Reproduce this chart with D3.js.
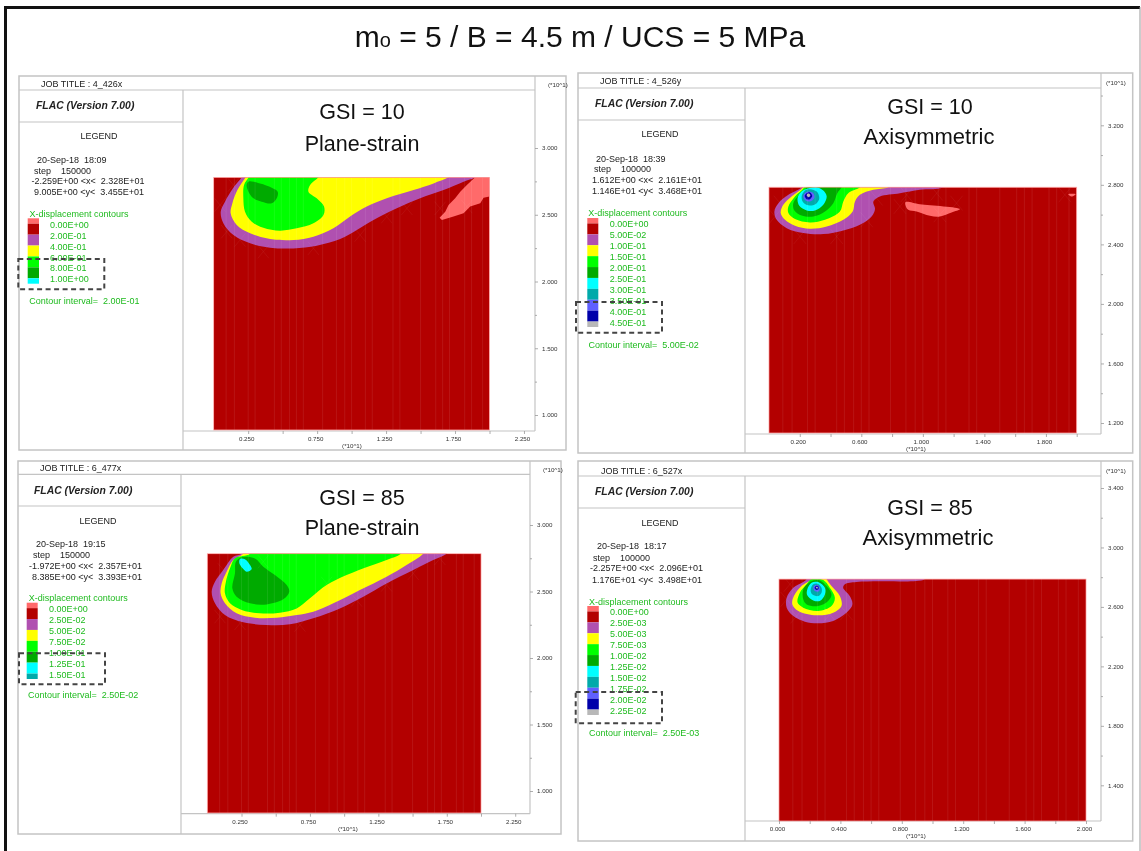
<!DOCTYPE html>
<html>
<head>
<meta charset="utf-8">
<title>FLAC x-displacement contours</title>
<script src="https://cdn.jsdelivr.net/npm/d3@7"></script>
<style>
  html, body { margin: 0; padding: 0; background: #fff; }
  svg { display: block; font-family: "Liberation Sans", Arial, sans-serif; filter: blur(0.5px); }
  svg text { white-space: pre; }
</style>
</head>
<body>
<script>
"use strict";

var chartTitle = "= 5 / B = 4.5 m / UCS = 5 MPa";

// contour colours, lowest level first
var levelColors = ["#ff6a6a", "#b30000", "#b050b0", "#ffff00", "#00ff00", "#00aa00",
  "#00ffff", "#00aaaa", "#6060ff", "#0000aa", "#b8b8b8"];

// legend values
var legend426 = ["0.00E+00", "2.00E-01", "4.00E-01", "6.00E-01", "8.00E-01", "1.00E+00"];
var legend526 = ["0.00E+00", "5.00E-02", "1.00E-01", "1.50E-01", "2.00E-01", "2.50E-01",
  "3.00E-01", "3.50E-01", "4.00E-01", "4.50E-01"];
var legend477 = ["0.00E+00", "2.50E-02", "5.00E-02", "7.50E-02", "1.00E-01", "1.25E-01", "1.50E-01"];
var legend527 = ["0.00E+00", "2.50E-03", "5.00E-03", "7.50E-03", "1.00E-02", "1.25E-02",
  "1.50E-02", "1.75E-02", "2.00E-02", "2.25E-02"];

// vertical grid lines of the mesh (model x, *10^1)
var meshColumns = [0.09, 0.15, 0.25, 0.30, 0.44, 0.49, 0.55, 0.60, 0.65, 0.79, 0.89, 0.95,
  1.00, 1.10, 1.15, 1.30, 1.35, 1.50, 1.61, 1.66, 1.71, 1.82, 1.87, 1.95];

// refined mesh zones showing as faint crosses, cell centres in model units
var cells426 = [[0.143, 2.723], [0.046, 2.573], [0.094, 2.373], [0.191, 2.311], [0.360, 2.224], [0.723, 2.249],
  [1.062, 2.348], [1.255, 2.486], [1.401, 2.548], [1.642, 2.548], [1.836, 2.561]];
var cells526 = [[0.039, 2.587], [0.071, 2.677], [0.201, 2.453], [0.440, 2.453], [0.635, 2.565], [0.699, 2.711],
  [0.851, 2.655], [0.895, 2.733], [1.09, 2.744], [1.219, 2.677], [1.111, 2.599], [1.923, 2.733]];
var cells477 = [[0.117, 2.662], [0.093, 2.311], [0.239, 2.261], [0.677, 2.248], [1.091, 2.436], [1.310, 2.549],
  [1.505, 2.637], [1.700, 2.749], [0.409, 2.724], [0.872, 2.561]];
var cells527 = [[0.050, 2.651], [0.115, 2.539], [0.331, 2.550], [0.439, 2.561], [0.071, 2.752]];

// contour outlines, [x, y] in model units (*10^1)
var c426Purple = [[0.203, 2.78], [0.14, 2.698], [0.082, 2.598], [0.051, 2.523], [0.070, 2.436], [0.143, 2.348],
  [0.264, 2.286], [0.409, 2.253], [0.578, 2.248], [0.747, 2.268], [0.917, 2.318], [1.038, 2.386], [1.159, 2.461],
  [1.328, 2.548], [1.497, 2.623], [1.667, 2.685], [1.812, 2.748], [1.896, 2.78], [1.95, 2.85], [0.24, 2.85]];
var c426Yellow = [[0.232, 2.78], [0.172, 2.685], [0.135, 2.585], [0.123, 2.511], [0.167, 2.423], [0.264, 2.361],
  [0.409, 2.318], [0.578, 2.311], [0.723, 2.336], [0.868, 2.398], [0.989, 2.486], [1.110, 2.561], [1.255, 2.623],
  [1.449, 2.685], [1.594, 2.735], [1.703, 2.78], [1.80, 2.85], [0.28, 2.85]];
var c426Green = [[0.252, 2.78], [0.220, 2.723], [0.215, 2.623], [0.227, 2.523], [0.276, 2.448], [0.360, 2.403],
  [0.481, 2.381], [0.602, 2.398], [0.723, 2.436], [0.796, 2.498], [0.800, 2.561], [0.747, 2.623], [0.687, 2.673],
  [0.699, 2.723], [0.760, 2.78], [0.80, 2.85], [0.27, 2.85]];
var c426Dark = [[0.252, 2.748], [0.336, 2.735], [0.421, 2.703], [0.464, 2.673], [0.457, 2.623], [0.421, 2.586],
  [0.348, 2.598], [0.288, 2.623], [0.252, 2.673], [0.239, 2.723]];
var c426Pink = [[1.896, 2.78], [2.0, 2.78], [2.0, 2.636], [1.957, 2.628], [1.933, 2.586], [1.860, 2.561],
  [1.812, 2.511], [1.739, 2.486], [1.655, 2.461], [1.638, 2.478], [1.679, 2.523], [1.703, 2.573], [1.751, 2.623],
  [1.788, 2.673], [1.836, 2.723]];

var c526Purple = [[0.212, 2.784], [0.126, 2.733], [0.061, 2.677], [0.035, 2.621], [0.050, 2.565], [0.115, 2.509],
  [0.223, 2.476], [0.353, 2.469], [0.483, 2.494], [0.591, 2.532], [0.667, 2.587], [0.689, 2.637], [0.678, 2.688],
  [0.721, 2.722], [0.851, 2.744], [0.981, 2.767], [1.133, 2.784], [1.2, 2.85], [0.25, 2.85]];
var c526Yellow = [[0.223, 2.784], [0.147, 2.722], [0.093, 2.666], [0.076, 2.610], [0.104, 2.565], [0.169, 2.525],
  [0.266, 2.505], [0.375, 2.520], [0.483, 2.565], [0.544, 2.621], [0.559, 2.688], [0.591, 2.733], [0.678, 2.767],
  [0.775, 2.784], [0.85, 2.85], [0.26, 2.85]];
var c526Green = [[0.230, 2.784], [0.169, 2.722], [0.126, 2.655], [0.126, 2.610], [0.169, 2.570], [0.266, 2.547],
  [0.364, 2.565], [0.461, 2.621], [0.483, 2.688], [0.515, 2.744], [0.591, 2.784], [0.65, 2.85], [0.26, 2.85]];
var c526Dark = [[0.245, 2.784], [0.197, 2.733], [0.158, 2.677], [0.165, 2.628], [0.212, 2.594], [0.288, 2.587],
  [0.364, 2.621], [0.418, 2.677], [0.444, 2.744], [0.472, 2.784], [0.5, 2.85], [0.26, 2.85]];
var c526Cyan = [[0.266, 2.778], [0.212, 2.755], [0.186, 2.711], [0.197, 2.659], [0.245, 2.628], [0.299, 2.628],
  [0.353, 2.666], [0.375, 2.722], [0.353, 2.762], [0.310, 2.784]];
var c526Teal = [[0.234, 2.762], [0.212, 2.722], [0.223, 2.682], [0.266, 2.661], [0.310, 2.677], [0.327, 2.711],
  [0.310, 2.755], [0.266, 2.771]];
var c526Violet = [[0.238, 2.749], [0.223, 2.722], [0.238, 2.695], [0.266, 2.688], [0.295, 2.711], [0.288, 2.744],
  [0.262, 2.755]];
var c526Blue = [[0.245, 2.744], [0.232, 2.726], [0.245, 2.704], [0.266, 2.704], [0.281, 2.726], [0.266, 2.749]];
var c526Gray = [[0.251, 2.740], [0.245, 2.728], [0.258, 2.717], [0.269, 2.728], [0.262, 2.740]];
var c526Pink = [[0.888, 2.684], [0.981, 2.670], [1.241, 2.637], [1.187, 2.614], [1.111, 2.587], [1.046, 2.592],
  [0.959, 2.621], [0.905, 2.632], [0.888, 2.659]];
var c526PinkSmall = [[1.945, 2.737], [1.993, 2.737], [1.967, 2.722]];

var c477Purple = [[0.251, 2.784], [0.190, 2.762], [0.117, 2.662], [0.056, 2.574], [0.032, 2.499], [0.056, 2.411],
  [0.129, 2.323], [0.263, 2.268], [0.434, 2.248], [0.604, 2.253], [0.774, 2.298], [0.969, 2.373], [1.140, 2.461],
  [1.310, 2.561], [1.505, 2.662], [1.651, 2.737], [1.749, 2.784], [1.8, 2.85], [0.3, 2.85]];
var c477Yellow = [[0.263, 2.784], [0.190, 2.737], [0.141, 2.649], [0.105, 2.561], [0.097, 2.486], [0.129, 2.411],
  [0.214, 2.336], [0.348, 2.303], [0.507, 2.303], [0.653, 2.323], [0.774, 2.348], [0.921, 2.411], [1.115, 2.511],
  [1.310, 2.611], [1.456, 2.699], [1.578, 2.784], [1.62, 2.85], [0.3, 2.85]];
var c477Green = [[0.312, 2.784], [0.202, 2.749], [0.166, 2.674], [0.136, 2.574], [0.129, 2.486], [0.166, 2.411],
  [0.251, 2.361], [0.385, 2.336], [0.531, 2.341], [0.653, 2.373], [0.750, 2.449], [0.872, 2.549], [1.018, 2.624],
  [1.188, 2.692], [1.310, 2.737], [1.415, 2.784], [1.46, 2.85], [0.34, 2.85]];
var c477Dark = [[0.251, 2.757], [0.348, 2.749], [0.409, 2.687], [0.494, 2.624], [0.580, 2.549], [0.599, 2.499],
  [0.555, 2.441], [0.434, 2.403], [0.312, 2.411], [0.214, 2.461], [0.183, 2.524], [0.202, 2.636], [0.209, 2.724]];
var c477Cyan = [[0.239, 2.744], [0.275, 2.742], [0.312, 2.699], [0.324, 2.667], [0.287, 2.649], [0.258, 2.674],
  [0.234, 2.712]];

var c527Purple = [[0.18, 2.787], [0.158, 2.767], [0.093, 2.729], [0.050, 2.662], [0.050, 2.595], [0.093, 2.539],
  [0.169, 2.501], [0.255, 2.490], [0.353, 2.506], [0.439, 2.561], [0.478, 2.617], [0.461, 2.673], [0.418, 2.729],
  [0.429, 2.752], [0.504, 2.767], [0.656, 2.772], [0.894, 2.774], [0.95, 2.787], [0.95, 2.85], [0.2, 2.85]];
var c527Yellow = [[0.212, 2.787], [0.147, 2.740], [0.097, 2.673], [0.087, 2.617], [0.126, 2.573], [0.245, 2.544],
  [0.353, 2.561], [0.407, 2.606], [0.396, 2.673], [0.342, 2.740], [0.310, 2.787], [0.3, 2.85], [0.22, 2.85]];
var c527Green = [[0.212, 2.787], [0.180, 2.752], [0.136, 2.696], [0.121, 2.629], [0.158, 2.595], [0.255, 2.573],
  [0.342, 2.606], [0.364, 2.662], [0.331, 2.729], [0.288, 2.781]];
var c527Dark = [[0.201, 2.767], [0.158, 2.718], [0.158, 2.651], [0.180, 2.617], [0.255, 2.606], [0.320, 2.640],
  [0.342, 2.684], [0.299, 2.752], [0.255, 2.781]];
var c527Cyan = [[0.212, 2.763], [0.184, 2.718], [0.184, 2.678], [0.223, 2.644], [0.266, 2.640], [0.299, 2.684],
  [0.299, 2.729], [0.255, 2.767]];
var c527Teal = [[0.223, 2.752], [0.206, 2.714], [0.216, 2.685], [0.255, 2.673], [0.277, 2.696], [0.277, 2.729],
  [0.251, 2.756]];
var c527Violet = [[0.234, 2.745], [0.223, 2.729], [0.234, 2.707], [0.260, 2.705], [0.266, 2.729], [0.251, 2.747]];
var c527Blue = [[0.240, 2.741], [0.232, 2.727], [0.245, 2.714], [0.258, 2.723], [0.255, 2.741]];
var c527Gray = [[0.245, 2.736], [0.240, 2.727], [0.249, 2.723], [0.253, 2.732]];

// tick values for the four plots
var xMajor25 = [0.25, 0.75, 1.25, 1.75, 2.25];
var xMinor25 = [0.5, 1.0, 1.5, 2.0];
var xMajor2 = [0.2, 0.6, 1.0, 1.4, 1.8];
var xMinor2 = [0.4, 0.8, 1.2, 1.6, 2.0];
var xMajor4 = [0, 0.4, 0.8, 1.2, 1.6, 2.0];
var xMinor4 = [0.2, 0.6, 1.0, 1.4, 1.8];
var yMajor5 = [3.0, 2.5, 2.0, 1.5, 1.0];
var yMinor5 = [2.75, 2.25, 1.75, 1.25];
var yMajor426 = [3.2, 2.8, 2.4, 2.0, 1.6, 1.2];
var yMinor426 = [3.4, 3.0, 2.6, 2.2, 1.8, 1.4];
var yMajor527 = [3.4, 3.0, 2.6, 2.2, 1.8, 1.4];
var yMinor527 = [3.2, 2.8, 2.4, 2.0, 1.6];

var panels = [
  {
    job: "JOB TITLE : 4_426x", date: "20-Sep-18  18:09", step: "step    150000",
    xRange: "-2.259E+00 <x<  2.328E+01", yRange: "9.005E+00 <y<  3.455E+01",
    gsi: "GSI = 10", mode: "Plane-strain", modeSize: 21.5, legend: legend426, cells: cells426,
    frame: [19, 76, 566, 450], titleB: 90, leftR: 183, flacB: 122, plotR: 535, axisT: 431,
    xPx: [213.7, 489.5], yVal: [3.0, 1.0], yPx: [148, 415], top: 2.78, bottom: 0.888,
    xMajor: xMajor25, xMinor: xMinor25, yMajor: yMajor5, yMinor: yMinor5,
    textX: { job: 41, flac: 36, legend: 99, date: 37, step: 34, xr: 31.5, yr: 34 },
    textY: { job: 84, flac: 105, legend: 136, date: 160, step: 171, xr: 181, yr: 192 },
    lg: { x: 27.7, w: 11.3, top: 218.3, textX: 50, firstY: 224.7, headX: 29.5, headY: 214, intY: 300.7, intX: 29.3, interval: "2.00E-01" },
    dash: [18.3, 259, 104.3, 289.3],
    note: { gx: 362, gy: 111, mx: 362, my: 143 }, unitX: 548, unitY: 85, unitBx: 352,
    contours: [[2, c426Purple], [3, c426Yellow], [4, c426Green], [5, c426Dark], [0, c426Pink, true]]
  },
  {
    job: "JOB TITLE : 4_526y", date: "20-Sep-18  18:39", step: "step    100000",
    xRange: "1.612E+00 <x<  2.161E+01", yRange: "1.146E+01 <y<  3.468E+01",
    gsi: "GSI = 10", mode: "Axisymmetric", modeSize: 22, legend: legend526, cells: cells526,
    frame: [578, 73, 1132.7, 453], titleB: 88, leftR: 745, flacB: 120, plotR: 1101, axisT: 434,
    xPx: [769, 1076.7], yVal: [3.2, 1.2], yPx: [125.3, 423], top: 2.784, bottom: 1.133,
    xMajor: xMajor2, xMinor: xMinor2, yMajor: yMajor426, yMinor: yMinor426,
    textX: { job: 600, flac: 595, legend: 660, date: 596, step: 594, xr: 592, yr: 592 },
    textY: { job: 81, flac: 103, legend: 134, date: 159, step: 169, xr: 180, yr: 191 },
    lg: { x: 587.3, w: 11, top: 218, textX: 609.7, firstY: 224.3, headX: 588.3, headY: 213.3, intY: 345, intX: 588.5, interval: "5.00E-02" },
    dash: [576, 302, 662, 332.7],
    note: { gx: 930, gy: 106, mx: 929, my: 136 }, unitX: 1106, unitY: 83, unitBx: 916,
    contours: [[2, c526Purple], [3, c526Yellow], [4, c526Green], [5, c526Dark], [6, c526Cyan], [7, c526Teal],
      [8, c526Violet], [9, c526Blue], [10, c526Gray], [0, c526Pink], [0, c526PinkSmall]]
  },
  {
    job: "JOB TITLE : 6_477x", date: "20-Sep-18  19:15", step: "step    150000",
    xRange: "-1.972E+00 <x<  2.357E+01", yRange: "8.385E+00 <y<  3.393E+01",
    gsi: "GSI = 85", mode: "Plane-strain", modeSize: 21.5, legend: legend477, cells: cells477,
    frame: [18, 461, 561, 834], titleB: 474.3, leftR: 181, flacB: 506, plotR: 530, axisT: 813.7,
    xPx: [207.3, 481], yVal: [3.0, 1.0], yPx: [525, 791], top: 2.784, bottom: 0.835,
    xMajor: xMajor25, xMinor: xMinor25, yMajor: yMajor5, yMinor: yMinor5,
    textX: { job: 40, flac: 34, legend: 98, date: 36, step: 33, xr: 29, yr: 32 },
    textY: { job: 468, flac: 490, legend: 521, date: 544, step: 555, xr: 566, yr: 577 },
    lg: { x: 26.7, w: 11, top: 602.7, textX: 49, firstY: 609, headX: 28.7, headY: 598.3, intY: 695, intX: 28, interval: "2.50E-02" },
    dash: [19, 653.3, 105, 684.3],
    note: { gx: 362, gy: 497, mx: 362, my: 527 }, unitX: 543, unitY: 470, unitBx: 348,
    contours: [[2, c477Purple], [3, c477Yellow], [4, c477Green], [5, c477Dark], [6, c477Cyan]]
  },
  {
    job: "JOB TITLE : 6_527x", date: "20-Sep-18  18:17", step: "step    100000",
    xRange: "-2.257E+00 <x<  2.096E+01", yRange: "1.176E+01 <y<  3.498E+01",
    gsi: "GSI = 85", mode: "Axisymmetric", modeSize: 22, legend: legend527, cells: cells527,
    frame: [578, 461, 1132.7, 841], titleB: 476, leftR: 745, flacB: 508, plotR: 1101, axisT: 821,
    xPx: [779, 1086], yVal: [3.4, 1.4], yPx: [488, 785.3], top: 2.787, bottom: 1.16,
    xMajor: xMajor4, xMinor: xMinor4, yMajor: yMajor527, yMinor: yMinor527,
    textX: { job: 601, flac: 595, legend: 660, date: 597, step: 593, xr: 590, yr: 592 },
    textY: { job: 471, flac: 491, legend: 523, date: 546, step: 558, xr: 568, yr: 580 },
    lg: { x: 587.3, w: 11.5, top: 606, textX: 610, firstY: 612.3, headX: 589, headY: 601.7, intY: 733.3, intX: 589, interval: "2.50E-03" },
    dash: [575.7, 692, 662, 723.3],
    note: { gx: 930, gy: 507, mx: 928, my: 537 }, unitX: 1106, unitY: 471, unitBx: 916,
    contours: [[2, c527Purple], [3, c527Yellow], [4, c527Green], [5, c527Dark], [6, c527Cyan], [7, c527Teal],
      [8, c527Violet], [9, c527Blue], [10, c527Gray]]
  }
];

var w = 1141;
var h = 851;
var rowH = 10.9;
var legendGreen = "#1fbb1f";

var svg = d3.select("body").append("svg")
  .attr("width", w)
  .attr("height", h);

// outer slide border
svg.append("line").attr("x1", 4).attr("x2", 1140).attr("y1", 7.5).attr("y2", 7.5)
  .attr("stroke", "#111").attr("stroke-width", 3);
svg.append("line").attr("x1", 5.5).attr("x2", 5.5).attr("y1", 7).attr("y2", h)
  .attr("stroke", "#111").attr("stroke-width", 3);
svg.append("line").attr("x1", 1140).attr("x2", 1140).attr("y1", 7).attr("y2", h)
  .attr("stroke", "#999").attr("stroke-width", 1);

var title = svg.append("text")
  .attr("x", 580)
  .attr("y", 47)
  .attr("text-anchor", "middle")
  .attr("font-size", "30px")
  .attr("fill", "#111");
title.append("tspan").text("m");
title.append("tspan").attr("font-size", "20px").text("o");
title.append("tspan").text(" " + chartTitle);

function addText(g, x, y, str, size, fill) {
  return g.append("text")
    .attr("x", x)
    .attr("y", y)
    .attr("dy", "0.35em")
    .attr("font-size", size + "px")
    .attr("fill", fill || "#222")
    .text(str);
}

panels.forEach(function (p, idx) {
  var g = svg.append("g");
  var f = p.frame;

  var xScale = d3.scaleLinear().domain([0, 2]).range(p.xPx);
  var yScale = d3.scaleLinear().domain(p.yVal).range(p.yPx);

  // frame of the FLAC plot
  var frameColor = "#c4c4c4";
  g.append("rect")
    .attr("x", f[0]).attr("y", f[1])
    .attr("width", f[2] - f[0]).attr("height", f[3] - f[1])
    .attr("fill", "#fff").attr("stroke", frameColor).attr("stroke-width", 1.5);
  [
    [f[0], p.titleB, p.plotR, p.titleB],
    [p.leftR, p.titleB, p.leftR, f[3]],
    [f[0], p.flacB, p.leftR, p.flacB],
    [p.plotR, f[1], p.plotR, p.axisT],
    [p.leftR, p.axisT, p.plotR, p.axisT]
  ].forEach(function (s) {
    g.append("line")
      .attr("x1", s[0]).attr("y1", s[1]).attr("x2", s[2]).attr("y2", s[3])
      .attr("stroke", frameColor).attr("stroke-width", 1.2);
  });

  // contour field, clipped to the mesh
  var clipId = "mesh" + idx;
  var meshX = xScale(0);
  var meshY = yScale(p.top);
  var meshW = xScale(2) - xScale(0);
  var meshH = yScale(p.bottom) - yScale(p.top);
  svg.append("clipPath").attr("id", clipId).append("rect")
    .attr("x", meshX).attr("y", meshY).attr("width", meshW).attr("height", meshH);

  var field = g.append("g").attr("clip-path", "url(#" + clipId + ")");
  field.append("rect")
    .attr("x", meshX).attr("y", meshY).attr("width", meshW).attr("height", meshH)
    .attr("fill", levelColors[1]);

  var smooth = d3.line()
    .x(function (d) { return xScale(d[0]); })
    .y(function (d) { return yScale(d[1]); })
    .curve(d3.curveCatmullRomClosed.alpha(0.5));
  var straight = d3.line()
    .x(function (d) { return xScale(d[0]); })
    .y(function (d) { return yScale(d[1]); })
    .curve(d3.curveLinearClosed);

  p.contours.forEach(function (c) {
    field.append("path")
      .attr("d", (c[2] ? straight : smooth)(c[1]))
      .attr("fill", levelColors[c[0]]);
  });

  field.selectAll("line.col")
    .data(meshColumns)
    .enter()
    .append("line")
    .attr("class", "col")
    .attr("x1", function (d) { return xScale(d); })
    .attr("x2", function (d) { return xScale(d); })
    .attr("y1", meshY)
    .attr("y2", meshY + meshH)
    .attr("stroke", "#fff")
    .attr("stroke-opacity", 0.1)
    .attr("stroke-width", 0.8);

  // faint crossed cells of the refined mesh
  var crossPath = d3.path();
  p.cells.forEach(function (c) {
    crossPath.moveTo(xScale(c[0] - 0.04), yScale(c[1] - 0.05));
    crossPath.lineTo(xScale(c[0] + 0.04), yScale(c[1] + 0.05));
    crossPath.moveTo(xScale(c[0] - 0.04), yScale(c[1] + 0.05));
    crossPath.lineTo(xScale(c[0] + 0.04), yScale(c[1] - 0.05));
  });
  field.append("path")
    .attr("d", crossPath.toString())
    .attr("fill", "none")
    .attr("stroke", "#fff")
    .attr("stroke-opacity", 0.08)
    .attr("stroke-width", 0.7);

  g.append("rect")
    .attr("x", meshX).attr("y", meshY).attr("width", meshW).attr("height", meshH)
    .attr("fill", "none").attr("stroke", "#ff9a9a").attr("stroke-width", 0.7);

  // axes
  function styleAxis(sel) {
    sel.select(".domain").remove();
    sel.selectAll("line").attr("stroke", "#999").attr("stroke-width", 0.8);
    sel.selectAll("text").attr("font-size", "6.2px").attr("font-family", "inherit").attr("fill", "#333");
  }
  var bottomAxis = d3.axisBottom(xScale).tickValues(p.xMajor).tickSize(3).tickPadding(2.5)
    .tickFormat(d3.format(".3f"));
  g.append("g").attr("transform", "translate(0," + p.axisT + ")").call(bottomAxis).call(styleAxis)
    .selectAll("text").attr("dx", "-2");
  g.append("g").attr("transform", "translate(0," + p.axisT + ")")
    .call(d3.axisBottom(xScale).tickValues(p.xMinor).tickSize(3).tickFormat(""))
    .call(styleAxis);
  var rightAxis = d3.axisRight(yScale).tickValues(p.yMajor).tickSize(3).tickPadding(4)
    .tickFormat(d3.format(".3f"));
  g.append("g").attr("transform", "translate(" + p.plotR + ",0)").call(rightAxis).call(styleAxis);
  g.append("g").attr("transform", "translate(" + p.plotR + ",0)")
    .call(d3.axisRight(yScale).tickValues(p.yMinor).tickSize(2).tickFormat(""))
    .call(styleAxis);

  addText(g, p.unitX, p.unitY, "(*10^1)", 6.2, "#333");
  addText(g, p.unitBx, p.axisT + 15, "(*10^1)", 6.2, "#333").attr("text-anchor", "middle");

  // header block
  addText(g, p.textX.job, p.textY.job, p.job, 9);
  addText(g, p.textX.flac, p.textY.flac, "FLAC (Version 7.00)", 10.4)
    .attr("font-weight", "bold").attr("font-style", "italic");
  addText(g, p.textX.legend, p.textY.legend, "LEGEND", 9).attr("text-anchor", "middle");
  addText(g, p.textX.date, p.textY.date, p.date, 9);
  addText(g, p.textX.step, p.textY.step, p.step, 9);
  addText(g, p.textX.xr, p.textY.xr, p.xRange, 9);
  addText(g, p.textX.yr, p.textY.yr, p.yRange, 9);

  // legend swatches: first and last are half a row high
  var lg = p.lg;
  var n = p.legend.length;
  var swatches = d3.range(n + 1);
  g.selectAll("rect.swatch")
    .data(swatches)
    .enter()
    .append("rect")
    .attr("class", "swatch")
    .attr("x", lg.x)
    .attr("width", lg.w)
    .attr("y", function (d) { return d === 0 ? lg.top : lg.top + rowH / 2 + (d - 1) * rowH; })
    .attr("height", function (d) { return (d === 0 || d === n) ? rowH / 2 : rowH; })
    .attr("fill", function (d) { return levelColors[d]; });

  addText(g, lg.headX, lg.headY, "X-displacement contours", 9, legendGreen);
  p.legend.forEach(function (v, i) {
    addText(g, lg.textX, lg.firstY + i * rowH, v, 9, legendGreen);
  });
  addText(g, lg.intX, lg.intY, "Contour interval=  " + lg.interval, 9, legendGreen);

  // dashed highlight
  g.append("rect")
    .attr("x", p.dash[0]).attr("y", p.dash[1])
    .attr("width", p.dash[2] - p.dash[0]).attr("height", p.dash[3] - p.dash[1])
    .attr("fill", "none").attr("stroke", "#444").attr("stroke-width", 2)
    .attr("stroke-dasharray", "5,3.5");

  // slide annotations
  addText(g, p.note.gx, p.note.gy, p.gsi, 21.5, "#111").attr("text-anchor", "middle");
  addText(g, p.note.mx, p.note.my, p.mode, p.modeSize, "#111").attr("text-anchor", "middle");
});
</script>
</body>
</html>
